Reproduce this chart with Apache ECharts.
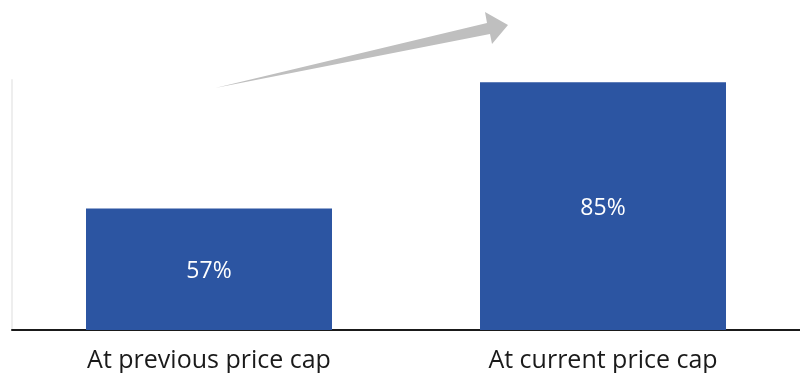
<!DOCTYPE html>
<html>
<head>
<meta charset="utf-8">
<script src="https://cdn.jsdelivr.net/npm/echarts@6/dist/echarts.min.js"></script>
<style>
  html, body { margin: 0; padding: 0; background: #ffffff; }
  #chart { width: 800px; height: 373px; }
</style>
</head>
<body>
<div id="chart"></div>
<script>
// Share of cost covered, before and after the price cap change
const categories = ['At previous price cap', 'At current price cap'];
const values = [57, 85];

// Value axis range (the axis starts above zero)
const axisMin = 30;
const axisMax = 85.5;

const chart = echarts.init(document.getElementById('chart'), null, { renderer: 'canvas' });

chart.setOption({
  animation: false,
  backgroundColor: '#ffffff',
  grid: { left: 12, width: 792, top: 80, height: 251, containLabel: false },
  xAxis: {
    type: 'category',
    data: categories,
    axisTick: { show: false },
    axisLine: { show: true, lineStyle: { color: '#1a1a1a', width: 2 } },
    axisLabel: {
      color: '#1a1a1a',
      fontFamily: 'Open Sans',
      fontSize: 25,
      margin: 18
    }
  },
  yAxis: {
    type: 'value',
    min: axisMin,
    max: axisMax,
    splitLine: { show: false },
    axisTick: { show: false },
    axisLabel: { show: false },
    axisLine: { show: true, lineStyle: { color: '#eeeeee', width: 2 } }
  },
  series: [{
    type: 'bar',
    data: values,
    barWidth: 246,
    itemStyle: { color: '#2c55a2' },
    label: {
      show: true,
      position: 'inside',
      color: '#ffffff',
      fontFamily: 'Open Sans',
      fontSize: 23,
      offset: [0, 2],
      formatter: p => p.value + '%'
    }
  }],
  // Rising arrow drawn above the bars
  graphic: [{
    type: 'polygon',
    shape: {
      points: [[215, 88], [487, 23], [485, 12], [508, 25], [492, 44], [490, 34]]
    },
    style: { fill: '#bfbfbf' }
  }]
});
</script>
</body>
</html>
